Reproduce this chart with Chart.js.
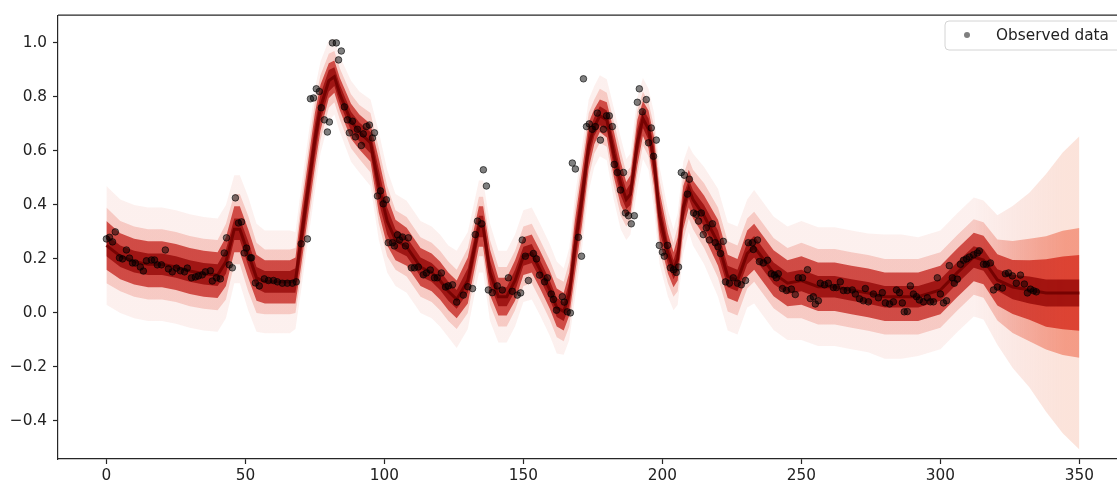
<!DOCTYPE html>
<html>
<head>
<meta charset="utf-8">
<script src="https://cdn.jsdelivr.net/npm/chart.js@4.4.1/dist/chart.umd.min.js"></script>
<style>
  html, body { margin: 0; padding: 0; background: #fff; overflow: hidden; }
  #wrap { width: 1117px; height: 484px; overflow: hidden; }
</style>
</head>
<body>
<div id="wrap"><canvas id="ppc" width="1130" height="484"></canvas></div>
<script>
const obsX = [0, 1.1, 2.2, 3.2, 4.7, 5.8, 7.2, 8.3, 9.4, 10.4, 12.2, 13.3, 14.4, 16.2, 17.3, 18.3, 19.8, 21.2, 22.3, 23.7,
  25.2, 26.6, 28.1, 29.1, 30.6, 32, 33.1, 34.5, 35.6, 37.4, 38.1, 39.6, 41, 42.4, 43.2, 44.2, 45.3, 46.4, 47.5, 48.6,
  49.6, 50.4, 51.8, 52.2, 53.6, 55, 56.8, 58.3, 60.1, 61.5, 63.3, 65.1, 66.9, 68.3, 70.1, 72.3,
  73.4, 74.5, 75.5, 76.6, 77.3, 78.4, 79.5, 80.2, 81.3, 82.7, 83.5, 84.5, 85.6, 86.7, 87.4, 88.5, 89.6, 90.3, 91.7, 92.4,
  93.5, 94.6, 95.7, 96.4, 97.5, 98.6, 99.6, 100.7, 101.4, 102.9, 103.6, 104.7, 105.4, 106.5, 107.6, 108.6, 109.7, 110.8,
  112.2, 114, 115.1, 116.5, 118, 119, 120.5, 122, 123, 124.5, 126, 128.4, 130, 131.7, 132.7, 133.5, 135, 135.6, 136.7,
  137.4, 138.8, 140.6, 142.4, 144.6, 146, 147.8, 149, 149.6, 150.7, 151.8, 153.6, 154.7, 155.8, 157.6, 158.6, 160, 160.8,
  161.9, 164, 164.7, 165.8, 166.9, 167.6, 168.7, 169.8, 170.9, 171.6, 172.7, 173.7, 174.8, 175.9, 176.6, 177.7, 178.8,
  179.9, 180.9, 182, 182.7, 183.8, 184.9, 186, 186.7, 187.8, 188.8, 189.9, 191, 191.7, 192.8, 194.2, 195, 196, 196.8,
  197.8, 198.9, 200, 200.7, 201.8, 202.9, 204, 205, 205.8, 206.8, 207.9, 209, 209.7, 211.2, 212.2, 213, 214, 214.7,
  215.8, 216.9, 218, 219, 220, 220.9, 221.9, 222.7, 224.1, 225.5, 227, 228.4, 229.9, 230.9, 232.4, 232.7, 234.2, 234.9,
  236.3, 237.8, 239.2, 240.3, 241, 241.7, 243.2, 244.6, 246.4, 247.8, 248.9, 250.4, 252.2, 253.2, 254.3, 255, 256.1,
  256.8, 258.3, 259.7, 261.5, 262.6, 264, 265.1, 266.5, 268.3, 269.4, 270.9, 272.3, 273, 274.1, 275.9, 277.7, 279.1,
  280.2, 281.7, 283.1, 284.2, 285.3, 286.3, 287, 288.1, 289.2, 290.3, 291.4, 292.4, 293.9, 295.3, 296.4, 297.5, 298.9,
  300, 301.1, 302.2, 303.2, 304.3, 305, 306.1, 307.2, 308.3, 309.4, 310.4, 311.9, 313.3, 314, 315.5, 316.5, 318, 319.1,
  320.5, 322.3, 323.4, 324.5, 325.9, 327.3, 328.8, 330.2, 331.3, 332.4, 333.5, 334.5];
const obsY = [0.274, 0.28, 0.263, 0.30, 0.204, 0.20, 0.233, 0.203, 0.185, 0.185, 0.17, 0.155, 0.193, 0.196, 0.196, 0.178, 0.178, 0.233, 0.163, 0.152,
  0.166, 0.156, 0.152, 0.166, 0.13, 0.133, 0.137, 0.141, 0.152, 0.156, 0.118, 0.13, 0.126, 0.222, 0.278, 0.178, 0.167, 0.426, 0.333, 0.337,
  0.222, 0.24, 0.204, 0.204, 0.111, 0.10, 0.126, 0.12, 0.12, 0.115, 0.11, 0.11, 0.11, 0.115, 0.256, 0.274,
  0.793, 0.796, 0.83, 0.82, 0.76, 0.715, 0.67, 0.707, 1.0, 1.0, 0.937, 0.97, 0.763, 0.715, 0.667, 0.71, 0.652, 0.68, 0.62, 0.663,
  0.69, 0.696, 0.648, 0.667, 0.433, 0.452, 0.404, 0.419, 0.26, 0.26, 0.248, 0.289, 0.27, 0.281, 0.248, 0.278, 0.167, 0.167,
  0.17, 0.141, 0.148, 0.159, 0.13, 0.13, 0.148, 0.096, 0.10, 0.104, 0.04, 0.066, 0.097, 0.09, 0.29, 0.34, 0.33, 0.53, 0.47,
  0.085, 0.075, 0.10, 0.085, 0.13, 0.08, 0.066, 0.074, 0.27, 0.21, 0.12, 0.22, 0.2, 0.14, 0.115, 0.13, 0.07, 0.05,
  0.01, 0.06, 0.04, 0.004, 0.0, 0.555, 0.533, 0.28, 0.21, 0.867, 0.69, 0.70, 0.68, 0.69, 0.74, 0.64, 0.68,
  0.73, 0.73, 0.69, 0.55, 0.52, 0.455, 0.52, 0.37, 0.36, 0.33, 0.36, 0.78, 0.83, 0.745, 0.79, 0.63, 0.685, 0.58,
  0.64, 0.25, 0.225, 0.21, 0.25, 0.167, 0.16, 0.15, 0.17, 0.52, 0.51, 0.44, 0.495, 0.37, 0.365, 0.34, 0.37, 0.29,
  0.315, 0.27, 0.33, 0.26, 0.245, 0.22, 0.265, 0.115, 0.11, 0.13, 0.11, 0.104, 0.12, 0.26, 0.26, 0.235, 0.27, 0.19,
  0.185, 0.195, 0.145, 0.14, 0.13, 0.145, 0.09, 0.083, 0.088, 0.068, 0.13, 0.13, 0.16, 0.053, 0.06, 0.033, 0.045,
  0.11, 0.104, 0.11, 0.094, 0.094, 0.115, 0.083, 0.083, 0.085, 0.07, 0.052, 0.045, 0.09, 0.041, 0.07, 0.056, 0.075,
  0.037, 0.033, 0.041, 0.085, 0.075, 0.037, 0.004, 0.005, 0.1, 0.07, 0.06, 0.048, 0.041, 0.056, 0.041, 0.041, 0.13,
  0.07, 0.037, 0.045, 0.175, 0.13, 0.11, 0.125, 0.18, 0.195, 0.2, 0.207, 0.215, 0.222, 0.23, 0.18, 0.18, 0.185, 0.085,
  0.096, 0.092, 0.145, 0.148, 0.137, 0.11, 0.14, 0.107, 0.074, 0.088, 0.082, 0.078];

// Posterior predictive band: centre and half-widths of the shaded layers
const bandX = [0, 5, 10, 15, 20, 25, 30, 35, 40, 43, 46, 48, 51, 54, 57, 62, 66, 68, 70, 72,
  75, 77, 80, 82, 84, 88, 91, 95, 98, 101, 104, 108, 113, 117, 120, 123, 126, 130, 134, 135.5,
  138, 141, 144, 147, 150, 153, 156, 159.5, 162, 164.5, 166.5, 168.5, 171, 173.5, 175.5, 177.5, 180, 182.5, 185, 187,
  188.5, 191, 193, 195, 197, 199, 202, 204, 205.5, 207.5, 209.5, 211, 215, 220, 223.5, 227, 230.5, 233, 235.5, 240,
  245, 250, 256, 262, 268, 274, 280, 286, 292, 300, 306, 312, 315.5, 320.5, 326, 332, 338, 344, 350];
const bandMid = [0.25, 0.21, 0.19, 0.18, 0.18, 0.17, 0.155, 0.145, 0.14, 0.19, 0.31, 0.31, 0.22, 0.13, 0.115, 0.115, 0.115, 0.12, 0.27, 0.42,
  0.64, 0.76, 0.86, 0.875, 0.81, 0.71, 0.67, 0.63, 0.47, 0.34, 0.27, 0.245, 0.17, 0.15, 0.12, 0.08, 0.05, 0.12, 0.32, 0.32,
  0.15, 0.06, 0.06, 0.12, 0.21, 0.22, 0.16, 0.085, 0.02, 0.005, 0.07, 0.24, 0.42, 0.62, 0.69, 0.73, 0.715, 0.59, 0.48, 0.42,
  0.44, 0.63, 0.72, 0.68, 0.56, 0.36, 0.22, 0.16, 0.2, 0.39, 0.46, 0.42, 0.36, 0.26, 0.135, 0.12, 0.22, 0.245, 0.21, 0.147,
  0.11, 0.12, 0.097, 0.097, 0.085, 0.074, 0.06, 0.06, 0.06, 0.085, 0.148, 0.207, 0.196, 0.122, 0.096, 0.085, 0.074, 0.074, 0.074];
const coreW = [0.04, 0.04, 0.04, 0.04, 0.04, 0.04, 0.04, 0.04, 0.04, 0.045, 0.04, 0.04, 0.045, 0.04, 0.04, 0.04, 0.04, 0.045, 0.06, 0.06,
  0.06, 0.05, 0.04, 0.035, 0.035, 0.035, 0.035, 0.04, 0.06, 0.05, 0.04, 0.035, 0.035, 0.035, 0.035, 0.035, 0.035, 0.045, 0.04, 0.04,
  0.045, 0.035, 0.035, 0.04, 0.035, 0.035, 0.035, 0.035, 0.035, 0.035, 0.045, 0.06, 0.06, 0.05, 0.035, 0.035, 0.035, 0.05, 0.045, 0.035,
  0.04, 0.05, 0.035, 0.04, 0.055, 0.055, 0.04, 0.035, 0.045, 0.045, 0.035, 0.035, 0.04, 0.045, 0.04, 0.04, 0.04, 0.04, 0.04, 0.04,
  0.04, 0.04, 0.04, 0.04, 0.04, 0.04, 0.04, 0.04, 0.04, 0.04, 0.04, 0.04, 0.04, 0.04, 0.045, 0.05, 0.05, 0.05, 0.05];
const denseW = [0.09, 0.085, 0.085, 0.085, 0.085, 0.085, 0.085, 0.085, 0.085, 0.09, 0.085, 0.085, 0.09, 0.085, 0.08, 0.08, 0.08, 0.085, 0.1, 0.1,
  0.1, 0.085, 0.065, 0.06, 0.06, 0.065, 0.065, 0.07, 0.1, 0.09, 0.075, 0.07, 0.07, 0.07, 0.07, 0.07, 0.07, 0.085, 0.075, 0.075,
  0.085, 0.07, 0.07, 0.075, 0.07, 0.07, 0.07, 0.07, 0.07, 0.07, 0.08, 0.1, 0.1, 0.085, 0.065, 0.06, 0.065, 0.085, 0.08, 0.065,
  0.07, 0.085, 0.065, 0.07, 0.09, 0.09, 0.075, 0.065, 0.08, 0.08, 0.07, 0.07, 0.075, 0.085, 0.08, 0.08, 0.085, 0.085, 0.085, 0.085,
  0.085, 0.09, 0.09, 0.09, 0.09, 0.09, 0.09, 0.09, 0.09, 0.09, 0.09, 0.09, 0.09, 0.095, 0.1, 0.11, 0.125, 0.135, 0.14];
const midW = [0.14, 0.13, 0.13, 0.13, 0.13, 0.13, 0.13, 0.13, 0.13, 0.14, 0.13, 0.13, 0.14, 0.13, 0.12, 0.12, 0.12, 0.12, 0.14, 0.14,
  0.14, 0.12, 0.1, 0.095, 0.095, 0.1, 0.1, 0.11, 0.14, 0.13, 0.11, 0.11, 0.11, 0.11, 0.11, 0.11, 0.11, 0.12, 0.11, 0.11,
  0.12, 0.11, 0.11, 0.11, 0.11, 0.11, 0.11, 0.11, 0.11, 0.11, 0.12, 0.14, 0.14, 0.12, 0.1, 0.1, 0.1, 0.12, 0.12, 0.1,
  0.1, 0.12, 0.1, 0.1, 0.13, 0.13, 0.11, 0.1, 0.12, 0.12, 0.11, 0.11, 0.12, 0.13, 0.13, 0.13, 0.13, 0.13, 0.13, 0.13,
  0.13, 0.14, 0.14, 0.14, 0.14, 0.14, 0.14, 0.14, 0.14, 0.14, 0.14, 0.14, 0.14, 0.15, 0.17, 0.19, 0.21, 0.23, 0.24];
const outerW = [0.22, 0.21, 0.21, 0.21, 0.21, 0.21, 0.21, 0.21, 0.21, 0.21, 0.2, 0.2, 0.21, 0.2, 0.19, 0.19, 0.19, 0.18, 0.19, 0.19,
  0.19, 0.17, 0.15, 0.14, 0.14, 0.15, 0.15, 0.16, 0.2, 0.19, 0.17, 0.17, 0.17, 0.17, 0.17, 0.17, 0.18, 0.18, 0.17, 0.17,
  0.18, 0.17, 0.17, 0.17, 0.17, 0.17, 0.17, 0.17, 0.17, 0.16, 0.17, 0.19, 0.19, 0.17, 0.15, 0.15, 0.15, 0.17, 0.17, 0.15,
  0.15, 0.17, 0.15, 0.15, 0.18, 0.18, 0.16, 0.15, 0.17, 0.17, 0.16, 0.17, 0.18, 0.2, 0.2, 0.2, 0.2, 0.21, 0.21, 0.21,
  0.21, 0.22, 0.22, 0.22, 0.22, 0.22, 0.23, 0.23, 0.22, 0.22, 0.22, 0.22, 0.22, 0.24, 0.3, 0.36, 0.44, 0.52, 0.58];

// Axis ticks
const xTickVals = [0, 50, 100, 150, 200, 250, 300, 350];
const xTickLabels = ['0', '50', '100', '150', '200', '250', '300', '350'];
const yTickVals = [-0.4, -0.2, 0, 0.2, 0.4, 0.6, 0.8, 1.0];
const yTickLabels = ['\u22120.4', '\u22120.2', '0.0', '0.2', '0.4', '0.6', '0.8', '1.0'];

const FONT = 'DejaVu Sans';

function edge(widths, sign) {
    return bandX.map((x, i) => ({ x: x, y: bandMid[i] + sign * widths[i] }));
}

// colour that gets stronger towards the right end (where the spread opens up)
function rampColor(c0, c1) {
    return function(context) {
        const chart = context.chart;
        if (!chart.chartArea) return c0;
        const xs = chart.scales.x;
        const g = chart.ctx.createLinearGradient(xs.getPixelForValue(312), 0, xs.getPixelForValue(345), 0);
        g.addColorStop(0, c0);
        g.addColorStop(1, c1);
        return g;
    };
}

function bandPair(widths, color, order) {
    const hi = {
        type: 'line', data: edge(widths, 1), borderWidth: 0, pointRadius: 0,
        backgroundColor: color, fill: '+1', order: order, tension: 0
    };
    const lo = {
        type: 'line', data: edge(widths, -1), borderWidth: 0, pointRadius: 0,
        backgroundColor: color, fill: false, order: order, tension: 0
    };
    return [hi, lo];
}

// top spine + legend box
const frame = {
    id: 'frame',
    afterDraw(chart) {
        const { ctx, chartArea: a } = chart;
        ctx.save();
        ctx.strokeStyle = '#262626';
        ctx.lineWidth = 1.2;
        ctx.beginPath();
        ctx.moveTo(a.left, a.top);
        ctx.lineTo(a.right, a.top);
        ctx.stroke();

        const lx = 945, ly = 21, lw = 190, lh = 29, r = 4;
        ctx.beginPath();
        ctx.moveTo(lx + r, ly);
        ctx.lineTo(lx + lw - r, ly);
        ctx.arcTo(lx + lw, ly, lx + lw, ly + r, r);
        ctx.lineTo(lx + lw, ly + lh - r);
        ctx.arcTo(lx + lw, ly + lh, lx + lw - r, ly + lh, r);
        ctx.lineTo(lx + r, ly + lh);
        ctx.arcTo(lx, ly + lh, lx, ly + lh - r, r);
        ctx.lineTo(lx, ly + r);
        ctx.arcTo(lx, ly, lx + r, ly, r);
        ctx.closePath();
        ctx.fillStyle = 'rgba(255,255,255,0.8)';
        ctx.fill();
        ctx.strokeStyle = '#d4d4d4';
        ctx.lineWidth = 1;
        ctx.stroke();
        ctx.beginPath();
        ctx.arc(967, 35, 3, 0, Math.PI * 2);
        ctx.fillStyle = 'rgba(0,0,0,0.5)';
        ctx.fill();
        ctx.fillStyle = '#222';
        ctx.font = '15.3px "' + FONT + '"';
        ctx.textBaseline = 'middle';
        ctx.fillText('Observed data', 996, 36);
        ctx.restore();
    }
};

const ctx = document.getElementById('ppc').getContext('2d');
const chart = new Chart(ctx, {
    type: 'line',
    data: {
        datasets: [
            {
                type: 'scatter',
                label: 'Observed data',
                data: obsX.map((x, i) => ({ x: x, y: obsY[i] })),
                pointRadius: 3.3,
                pointBackgroundColor: 'rgba(0,0,0,0.5)',
                pointBorderColor: 'rgba(0,0,0,0.6)',
                pointBorderWidth: 1,
                showLine: false,
                order: 0
            },
            {
                type: 'line',
                data: bandX.map((x, i) => ({ x: x, y: bandMid[i] })),
                borderColor: 'rgba(110,0,0,0.85)',
                borderWidth: 3,
                pointRadius: 0,
                fill: false,
                tension: 0,
                order: 1
            },
            ...bandPair(coreW, 'rgba(140,0,0,0.7)', 2),
            ...bandPair(denseW, rampColor('rgba(192,22,16,0.7)', 'rgba(215,45,30,0.8)'), 3),
            ...bandPair(midW, rampColor('rgba(228,80,60,0.24)', 'rgba(240,110,80,0.6)'), 4),
            ...bandPair(outerW, rampColor('rgba(235,140,125,0.13)', 'rgba(245,175,150,0.35)'), 5)
        ]
    },
    options: {
        responsive: false,
        animation: false,
        events: [],
        layout: { padding: { left: 0, top: 14, right: 0, bottom: 0 } },
        plugins: {
            legend: { display: false },
            tooltip: { enabled: false }
        },
        scales: {
            x: {
                type: 'linear',
                min: -17.5,
                max: 367.5,
                afterFit(axis) { axis.height = 25; },
                afterBuildTicks(axis) { axis.ticks = xTickVals.map(v => ({ value: v })); },
                ticks: {
                    autoSkip: false,
                    maxRotation: 0,
                    padding: 3,
                    color: '#222',
                    font: { family: FONT, size: 15.3 },
                    callback: (v, i) => xTickLabels[i]
                },
                grid: { drawOnChartArea: false, tickLength: 5, color: '#262626', tickWidth: 1.2 },
                border: { display: true, color: '#262626', width: 1.2 }
            },
            y: {
                type: 'linear',
                min: -0.541,
                max: 1.107,
                afterFit(axis) { axis.width = 58; },
                afterBuildTicks(axis) { axis.ticks = yTickVals.map(v => ({ value: v })); },
                ticks: {
                    autoSkip: false,
                    padding: 6,
                    color: '#222',
                    font: { family: FONT, size: 15.3 },
                    callback: (v, i) => yTickLabels[i]
                },
                grid: { drawOnChartArea: false, tickLength: 5, color: '#262626', tickWidth: 1.2 },
                border: { display: true, color: '#262626', width: 1.2 }
            }
        }
    },
    plugins: [frame]
});

// pin the data-to-pixel mapping to the reference: x 0 -> 106.4px, 350 -> 1079.4px; y 1.0 -> 42.9px, 0 -> 312.9px
const area = chart.chartArea;
const pxPerX = (1079.4 - 106.4) / 350;
const pxPerY = 312.9 - 42.9;
chart.options.scales.x.min = -(106.4 - area.left) / pxPerX;
chart.options.scales.x.max = (area.right - 106.4) / pxPerX;
chart.options.scales.y.max = (312.9 - area.top) / pxPerY;
chart.options.scales.y.min = -(area.bottom - 312.9) / pxPerY;
chart.update();
</script>
</body>
</html>
